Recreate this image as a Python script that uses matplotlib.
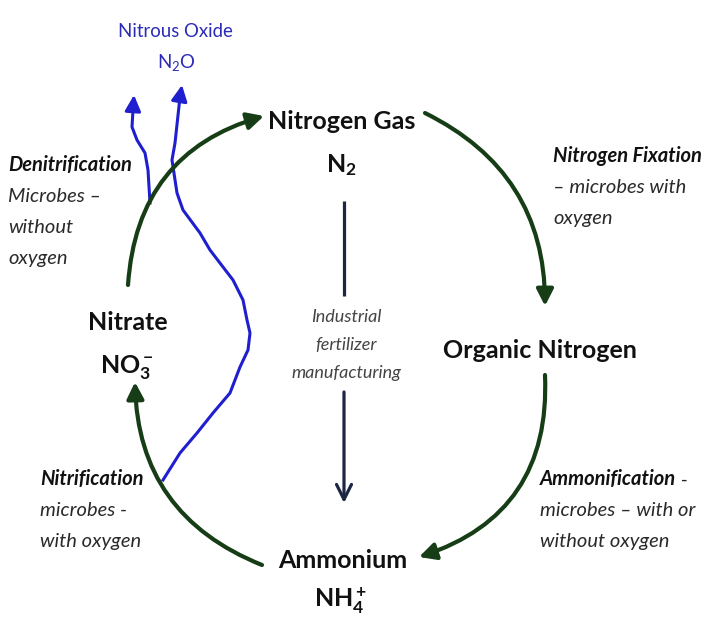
import matplotlib
matplotlib.use("Agg")
import matplotlib.pyplot as plt

plt.rcParams['font.family'] = ['Lato', 'DejaVu Sans']
plt.rcParams['mathtext.fontset'] = 'custom'
plt.rcParams['mathtext.rm'] = 'Lato'
plt.rcParams['mathtext.bf'] = 'Lato:bold'
plt.rcParams['mathtext.it'] = 'Lato:italic'

GREEN = '#163d16'
BLUE = '#1f1fd0'
NAVY = '#1c2743'

# nitrogen pools: name, formula, centre x, baseline of name, baseline of formula
node_names = ['Nitrogen Gas', 'Organic Nitrogen', 'Ammonium', 'Nitrate']
node_formulas = [r'$\mathbf{N_2}$', '', r'$\mathbf{NH_4^+}$', r'$\mathbf{NO_3^-}$']
node_x = [342, 540, 343, 128]
node_y = [129, 358, 568, 330]
formula_x = [341, 540, 340, 127]
formula_y = [172, 0, 608, 373]

# process labels (bold italic head + italic lines below)
proc_heads = ['Denitrification', 'Nitrogen Fixation', 'Nitrification', 'Ammonification']
proc_tails = ['', '', '', ' -']
proc_lines = [['Microbes –', 'without', 'oxygen'],
              ['– microbes with', 'oxygen'],
              ['microbes -', 'with oxygen'],
              ['microbes – with or', 'without oxygen']]
proc_x = [8, 553, 40, 540]
proc_y = [171, 162, 485, 485]

industrial_lines = ['Industrial', 'fertilizer', 'manufacturing']
industrial_x = 346
industrial_y = 322

# cycle arrows (start, end, curvature)
cycle_start = [(128, 285), (425, 113), (545, 375), (262, 565)]
cycle_end = [(264, 116), (545, 306), (419, 557), (135, 382)]
cycle_rad = [-0.35, -0.31, -0.38, -0.33]

# nitrous oxide escaping (hand-drawn blue lines)
n2o_left_x = [150, 148, 145, 137, 132, 133, 134]
n2o_left_y = [203, 170, 153, 140, 127, 110, 95]
n2o_right_x = [163, 180, 197, 213, 230, 240, 248, 250, 247, 243, 233, 223, 210, 200,
               183, 177, 172, 175, 180, 182]
n2o_right_y = [480, 453, 433, 413, 393, 367, 350, 333, 320, 300, 280, 267, 250, 233,
               210, 193, 160, 143, 97, 85]

fig = plt.figure(figsize=(7.03, 6.18), dpi=100)
ax = fig.add_axes([0, 0, 1, 1])
ax.set_xlim(0, 703)
ax.set_ylim(618, 0)
ax.axis('off')

for name, formula, x, y, fx, fy in zip(node_names, node_formulas, node_x, node_y,
                                       formula_x, formula_y):
    ax.text(x, y, name, ha='center', va='baseline', fontsize=18, fontweight='bold',
            color='#111111')
    if formula:
        ax.text(fx, fy, formula, ha='center', va='baseline', fontsize=18, color='#111111')

for head, tail, lines, x, y in zip(proc_heads, proc_tails, proc_lines, proc_x, proc_y):
    t = ax.text(x, y, head, ha='left', va='baseline', fontsize=14.5, fontweight='bold',
                style='italic', color='#111111')
    if tail:
        ax.annotate(tail, xy=(1, 0), xycoords=t, ha='left', va='bottom', fontsize=14.5,
                    style='italic', color='#222222')
    for i, line in enumerate(lines):
        ax.text(x, y + 31 * (i + 1), line, ha='left', va='baseline', fontsize=14.5,
                style='italic', color='#2a2a2a')

for i, line in enumerate(industrial_lines):
    ax.text(industrial_x, industrial_y + 28 * i, line, ha='center', va='baseline',
            fontsize=13, style='italic', color='#444444')

for s, e, r in zip(cycle_start, cycle_end, cycle_rad):
    ax.annotate('', xy=e, xytext=s,
                arrowprops=dict(arrowstyle='-|>,head_length=0.55,head_width=0.28',
                                connectionstyle=f'arc3,rad={r}', color=GREEN, lw=3,
                                shrinkA=0, shrinkB=0, mutation_scale=18))

# industrial fixation arrow
ax.plot([344, 344], [201, 296], color=NAVY, lw=2.3, solid_capstyle='butt')
ax.annotate('', xy=(344, 503), xytext=(344, 392),
            arrowprops=dict(arrowstyle='->,head_length=0.6,head_width=0.3', color=NAVY,
                            lw=2.3, shrinkA=0, shrinkB=0, mutation_scale=18))

for xs, ys in [(n2o_left_x, n2o_left_y), (n2o_right_x, n2o_right_y)]:
    ax.plot(xs[:-1], ys[:-1], color=BLUE, lw=2.2, solid_joinstyle='round')
    ax.annotate('', xy=(xs[-1], ys[-1]), xytext=(xs[-2], ys[-2]),
                arrowprops=dict(arrowstyle='-|>,head_length=0.6,head_width=0.3',
                                color=BLUE, lw=2.2, shrinkA=0, shrinkB=0,
                                mutation_scale=16))

ax.text(175, 37, 'Nitrous Oxide', ha='center', va='baseline', fontsize=13.4, color='#2b2bb8')
ax.text(176, 68, r'$\mathrm{N_2O}$', ha='center', va='baseline', fontsize=13.4, color='#2b2bb8')

fig.savefig('out.png', dpi=100)
